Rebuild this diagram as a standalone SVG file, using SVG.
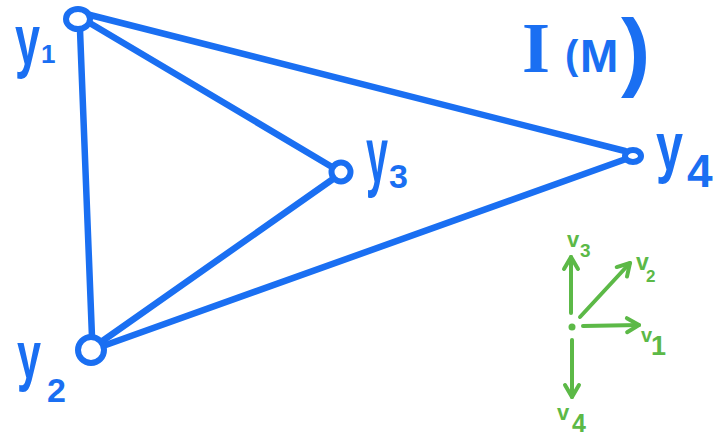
<svg xmlns="http://www.w3.org/2000/svg" width="717" height="436" viewBox="0 0 717 436">
<style>
.edge{stroke:#1a6ff2;stroke-width:6.5;stroke-linecap:round;fill:none}
.node{stroke:#1a6ff2;stroke-width:6;fill:#fff}
.lbl{fill:#1a6ff2;font-family:"Liberation Sans",Arial,sans-serif;font-weight:bold}
.vec{stroke:#5cb947;stroke-width:4;stroke-linecap:round;fill:none}
.vl{fill:#5cb947;font-family:"Liberation Sans",Arial,sans-serif;font-weight:bold}
</style>
<defs>
<marker id="ah" markerUnits="userSpaceOnUse" markerWidth="30" markerHeight="30" refX="0" refY="0" orient="auto" overflow="visible">
<path d="M -12 -7 L 0 0 L -12 7" fill="none" stroke="#5cb947" stroke-width="4" stroke-linecap="round" stroke-linejoin="round"/>
</marker>
</defs>
<rect width="717" height="436" fill="#fff"/>
<g id="connectors">
<line class="edge" x1="80" y1="30" x2="92" y2="337"/>
<line class="edge" x1="88" y1="22" x2="332" y2="167"/>
<line class="edge" x1="90" y1="15" x2="625" y2="151"/>
<line class="edge" x1="333" y1="179" x2="101" y2="342"/>
<line class="edge" x1="626" y1="159" x2="103" y2="346"/>
</g>
<g id="y1">
<ellipse class="node" cx="78" cy="19" rx="12" ry="10"/>
<text class="lbl" x="15" y="64" font-size="70" textLength="25" lengthAdjust="spacingAndGlyphs">y</text>
<text class="lbl" x="41" y="63" font-size="26">1</text>
</g>
<g id="y2">
<circle class="node" cx="91" cy="350" r="13"/>
<text class="lbl" x="17" y="378" font-size="67" textLength="24" lengthAdjust="spacingAndGlyphs">y</text>
<text class="lbl" x="47" y="402" font-size="34">2</text>
</g>
<g id="y3">
<circle class="node" cx="341" cy="172" r="9.5"/>
<text class="lbl" x="366" y="182" font-size="77" textLength="22" lengthAdjust="spacingAndGlyphs">y</text>
<text class="lbl" x="389" y="188" font-size="34">3</text>
</g>
<g id="y4">
<ellipse class="node" cx="633" cy="156" rx="8" ry="6"/>
<text class="lbl" x="656" y="170" font-size="68" textLength="27" lengthAdjust="spacingAndGlyphs">y</text>
<text class="lbl" x="687" y="187" font-size="46">4</text>
</g>
<g id="title">
<text class="lbl"><tspan x="522" y="72" font-size="72" font-family="'Liberation Serif',serif">I</tspan><tspan x="565" y="69" font-size="40">(</tspan><tspan x="580" y="72" font-size="46">M</tspan><tspan x="621" y="80" font-size="88">)</tspan></text>
</g>
<g id="vectors">
<circle cx="572" cy="327" r="3.5" fill="#5cb947"/>
<line class="vec" x1="571" y1="313" x2="571" y2="257" marker-end="url(#ah)"/>
<line class="vec" x1="580" y1="317" x2="630" y2="263" marker-end="url(#ah)"/>
<line class="vec" x1="583" y1="326" x2="639" y2="325" marker-end="url(#ah)"/>
<line class="vec" x1="572" y1="340" x2="572" y2="397" marker-end="url(#ah)"/>
<text class="vl" x="567" y="247" font-size="22">v</text>
<text class="vl" x="580" y="257" font-size="19">3</text>
<text class="vl" x="636" y="270" font-size="23">v</text>
<text class="vl" x="646" y="282" font-size="17">2</text>
<text class="vl" x="641" y="342" font-size="20">v</text>
<text class="vl" x="651" y="355" font-size="27">1</text>
<text class="vl" x="557" y="420" font-size="22">v</text>
<text class="vl" x="572" y="432" font-size="25">4</text>
</g>
</svg>
